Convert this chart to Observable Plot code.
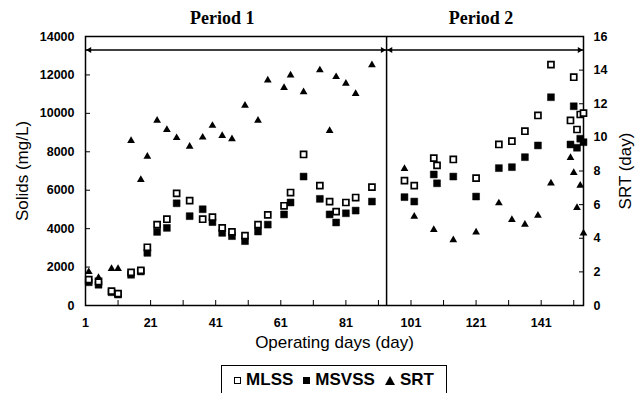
<!DOCTYPE html>
<html>
<head>
<meta charset="utf-8">
<script src="https://cdn.jsdelivr.net/npm/d3@7"></script>
<script src="https://cdn.jsdelivr.net/npm/@observablehq/plot@0.6"></script>
<style>
  body { margin: 0; background: #fff; }
  #wrap { position: relative; width: 641px; height: 393px; overflow: hidden; background: #fff; }
  #legend {
    position: absolute; left: 221px; top: 365px; width: 226px; height: 30px;
    border: 1.5px solid #000; box-sizing: border-box; background: #fff;
    display: flex; align-items: center; justify-content: center; gap: 0;
    font-family: "Liberation Sans", Arial, sans-serif; font-weight: bold; font-size: 17px; color: #000;
  }
  #legend .item { display: flex; align-items: center; margin: 0 5px; }
  #legend .sym { display: inline-block; margin-right: 5px; }
  #legend .open { width: 5px; height: 5px; border: 1.6px solid #000; background: #fff; }
  #legend .fill { width: 7px; height: 7px; background: #000; }
  #legend .tri { width: 0; height: 0; border-left: 5px solid transparent; border-right: 5px solid transparent; border-bottom: 9px solid #000; }
</style>
</head>
<body>
<div id="wrap"><div id="chart"></div><div id="legend"></div></div>
<script>
// ---- data ----
const days = [2,5,9,11,15,18,20,23,26,29,33,37,40,43,46,50,54,57,62,64,68,73,76,78,81,84,89,
              99,102,108,109,114,121,128,132,136,140,144,150,151,152,153,154];
const mlss = [1350,1250,750,620,1720,1830,3030,4210,4490,5840,5460,4490,4600,4040,3830,3640,4210,4720,5190,5880,7860,6240,5410,4890,5360,5620,6160,
              6500,6240,7670,7290,7600,6630,8380,8550,9070,9890,12540,9630,11880,9160,9940,10010];
const msvss = [1210,1080,690,570,1600,1770,2740,3830,4040,5320,4650,5010,4340,3780,3610,3350,3850,4210,4740,5360,6710,5550,4740,4320,4800,4940,5410,
               5640,5410,6820,6360,6710,5670,7150,7200,7720,8330,10840,8380,10370,8210,8680,8500];
const srtDays = [2,5,9,11,15,18,20,23,26,29,33,37,40,43,46,50,54,57,62,64,68,73,76,78,81,84,89,
                 99,102,108,114,121,128,132,136,140,144,150,151,152,153,154];
const srt = [2.0,1.65,2.18,2.18,9.8,7.48,8.86,11.0,10.45,9.97,9.46,10.0,10.7,10.1,9.9,11.9,11.0,13.4,12.95,13.7,12.7,14.0,10.4,13.6,13.2,12.6,14.3,
             8.13,5.3,4.5,3.9,4.36,6.09,5.1,4.82,5.35,7.27,8.79,7.9,5.81,7.14,4.3];
const solidTicks = [0,2000,4000,6000,8000,10000,12000,14000];
const srtTicks = [0,2,4,6,8,10,12,14,16];
const dayTicks = [1,21,41,61,81,101,121,141];
const dayMinorTicks = [1,11,21,31,41,51,61,71,81,91,101,111,121,131,141,151];
const periods = ["Period 1","Period 2"];
const periodStart = [1, 93.5];
const periodEnd = [93.5, 154];
const periodLabelX = [43, 122.5];
const periodArrowY = [13300, 13300];
const periodTitleY = [14950, 14950];
const seriesNames = ["MLSS","MSVSS","SRT"];
const xTitle = "Operating days (day)";
const yTitle = "Solids (mg/L)";
const y2Title = "SRT (day)";

// ---- build tables ----
const fac = 14000 / 16; // SRT (day) -> solids scale
const solids = days.map((d, i) => ({day: d, mlss: mlss[i], msvss: msvss[i]}));
const srtData = srtDays.map((d, i) => ({day: d, srt: srt[i]}));
const per = periods.map((p, i) => ({label: p, x1: periodStart[i], x2: periodEnd[i], lx: periodLabelX[i], ay: periodArrowY[i], ty: periodTitleY[i]}));

const plot = Plot.plot({
  width: 641, height: 360,
  marginTop: 36, marginBottom: 55, marginLeft: 85, marginRight: 58,
  x: {domain: [1, 154]},
  y: {domain: [0, 14000]},
  style: {fontFamily: '"Liberation Sans", Arial, sans-serif', fontSize: "12.5px", fontWeight: "bold", color: "#000", background: "#fff"},
  marks: [
    Plot.axisY({anchor: "left", ticks: solidTicks, tickFormat: v => String(v), tickSize: -5, tickPadding: 16, label: null}),
    Plot.axisY({anchor: "right", ticks: srtTicks.map(v => v * fac), tickFormat: v => String(Math.round(v / fac)), tickSize: -5, tickPadding: 15, label: null}),
    Plot.axisX({ticks: dayMinorTicks, tickSize: -5, tickFormat: () => "", label: null}),
    Plot.axisX({ticks: dayTicks, tickFormat: v => String(v), tickSize: 0, tickPadding: 13, label: null}),
    Plot.ruleX(per.slice(1), {x: "x1", stroke: "#000", strokeWidth: 1.5}),
    Plot.frame({stroke: "#000", strokeWidth: 1.5}),
    Plot.link(per, {x1: "x1", x2: "x2", y1: "ay", y2: "ay", stroke: "#000", strokeWidth: 1.6}),
    Plot.dot(per, {x: "x2", y: "ay", symbol: "triangle2", r: 2.8, rotate: 90, fill: "#000", dx: -4}),
    Plot.dot(per, {x: "x1", y: "ay", symbol: "triangle2", r: 2.8, rotate: -90, fill: "#000", dx: 4}),
    Plot.text(per, {x: "lx", y: "ty", text: "label", fontFamily: '"Liberation Serif", "Times New Roman", serif', fontSize: 18, fontWeight: "bold"}),
    Plot.dot(solids, {x: "day", y: "msvss", symbol: "square", r: 3.9, fill: "#000", stroke: "#000", strokeWidth: 0.5}),
    Plot.dot(solids, {x: "day", y: "mlss", symbol: "square", r: 3.4, fill: "#fff", stroke: "#000", strokeWidth: 1.7}),
    Plot.dot(srtData, {x: "day", y: d => d.srt * fac, symbol: "triangle2", r: 3.7, fill: "#000"}),
    Plot.text([yTitle], {frameAnchor: "left", text: d => d, rotate: -90, textAnchor: "middle", dx: -63, fontSize: 17, fontWeight: "normal"}),
    Plot.text([y2Title], {frameAnchor: "right", text: d => d, rotate: -90, textAnchor: "middle", dx: 42, fontSize: 17, fontWeight: "normal"}),
    Plot.text([xTitle], {frameAnchor: "bottom", text: d => d, dy: 42, fontSize: 17, fontWeight: "normal"})
  ]
});
document.getElementById("chart").appendChild(plot);

// ---- legend ----
const symClass = {MLSS: "open", MSVSS: "fill", SRT: "tri"};
const legend = document.getElementById("legend");
seriesNames.forEach(name => {
  const item = document.createElement("span");
  item.className = "item";
  const s = document.createElement("span");
  s.className = "sym " + symClass[name];
  const t = document.createElement("span");
  t.textContent = name;
  item.appendChild(s); item.appendChild(t);
  legend.appendChild(item);
});
</script>
</body>
</html>
